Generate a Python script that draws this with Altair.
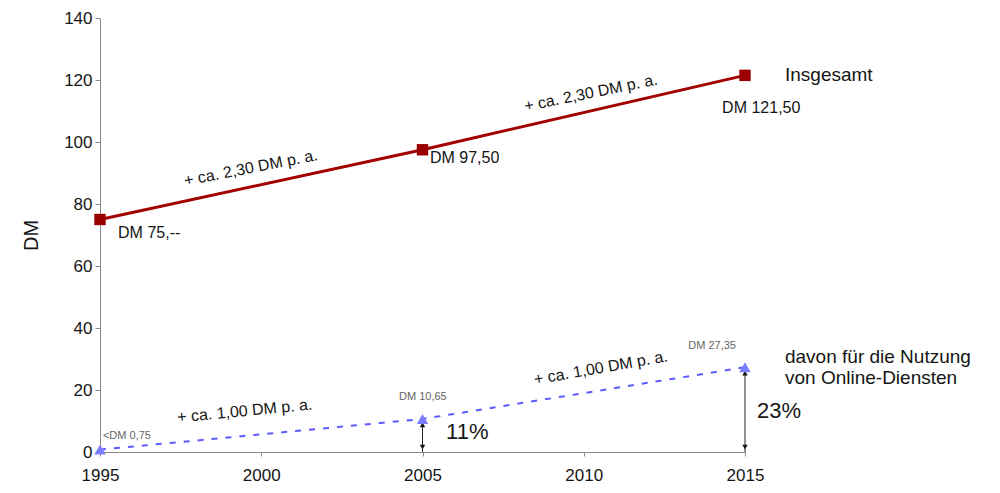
import altair as alt
import pandas as pd

# Average monthly spending per household (DM)
years = [1995, 2005, 2015]
total_dm = [75.0, 97.5, 121.5]
online_dm = [0.75, 10.65, 27.35]

# Value labels next to the markers
total_labels = ["DM 75,--", "DM 97,50", "DM 121,50"]
total_label_x = [1995.56, 2005.23, 2014.29]
total_label_y = [70.5, 94.8, 111.0]

online_labels = ["<DM 0,75", "DM 10,65", "DM 27,35"]
online_label_x = [1995.09, 2005.01, 2013.98]
online_label_y = [5.2, 17.7, 34.2]
online_label_align = ["left", "center", "center"]

# Growth-rate notes written along the line segments
rate_texts = ["+ ca. 2,30 DM p. a.", "+ ca. 2,30 DM p. a.",
              "+ ca. 1,00 DM p. a.", "+ ca. 1,00 DM p. a."]
rate_x = [1999.68, 2010.22, 1999.49, 2010.53]
rate_y = [91.6, 115.8, 13.2, 27.1]
rate_angle = [349, 348.5, 354.5, 350]

# Series names and share annotations
side_texts = ["Insgesamt", "davon für die Nutzung", "von Online-Diensten", "11%", "23%"]
side_x = [2016.24, 2016.24, 2016.24, 2005.73, 2015.37]
side_y = [121.6, 30.6, 23.9, 6.45, 13.2]
side_size = [19, 19, 19, 22, 22]

# Share arrows (from the axis up to the online value)
arrow_years = [2005, 2015]
arrow_tops = [10.65, 27.35]

FONT = "Liberation Sans"
INK = "#151515"

x_scale = alt.Scale(domain=[1995, 2015], nice=False, zero=False)
y_scale = alt.Scale(domain=[0, 140], nice=False)

totals = pd.DataFrame({"year": years, "dm": total_dm})
online = pd.DataFrame({"year": years, "dm": online_dm})

x_enc = alt.X("year:Q", scale=x_scale,
              axis=alt.Axis(values=[1995, 2000, 2005, 2010, 2015], format="d",
                            title=None, grid=False, domainColor="#8a8a8a",
                            tickColor="#8a8a8a", tickSize=4, labelFont=FONT,
                            labelFontSize=17, labelColor=INK, labelPadding=11,
                            labelBaseline="top",
                            labelFlush=False, labelOverlap=False))
y_enc = alt.Y("dm:Q", scale=y_scale,
              axis=alt.Axis(values=list(range(0, 141, 20)), title="DM", grid=False,
                            domainColor="#8a8a8a", tickColor="#8a8a8a", tickSize=5,
                            labelFont=FONT, labelFontSize=17, labelColor=INK,
                            labelPadding=3, labelFlush=False, labelOverlap=False,
                            titleFont=FONT, titleFontSize=20,
                            titleFontWeight="normal", titleColor=INK,
                            titlePadding=22))

total_line = alt.Chart(totals).mark_line(color="#a30000", strokeWidth=3).encode(x=x_enc, y=y_enc)
total_pts = alt.Chart(totals).mark_square(color="#9b0000", size=130, opacity=1).encode(
    x="year:Q", y="dm:Q")

online_line = alt.Chart(online).mark_line(color="#5a5aff", strokeWidth=2,
                                          strokeDash=[6, 8]).encode(x="year:Q", y="dm:Q")
online_pts = alt.Chart(online).mark_point(shape="triangle-up", filled=True, color="#7c7cff",
                                          size=130, opacity=1).encode(x="year:Q", y="dm:Q")

arrows = pd.DataFrame({"year": arrow_years, "top": arrow_tops, "base": [0, 0]})
arrow_rule = alt.Chart(arrows).mark_rule(color="#222", strokeWidth=1).encode(
    x="year:Q", y="base:Q", y2="top:Q")
arrow_up = alt.Chart(arrows).mark_point(shape="triangle-up", filled=True, color="#111",
                                        size=30, opacity=1, yOffset=6).encode(
    x="year:Q", y=alt.Y("top:Q"))
arrow_down = alt.Chart(arrows).mark_point(shape="triangle-down", filled=True, color="#111",
                                          size=30, opacity=1, yOffset=-5).encode(
    x="year:Q", y=alt.Y("base:Q"))

tl = pd.DataFrame({"x": total_label_x, "y": total_label_y, "t": total_labels})
total_text = alt.Chart(tl).mark_text(align="left", baseline="middle", font=FONT,
                                     fontSize=16, color=INK).encode(
    x="x:Q", y="y:Q", text="t:N")

ol = pd.DataFrame({"x": online_label_x, "y": online_label_y, "t": online_labels,
                   "a": online_label_align})
online_text = alt.layer(*[
    alt.Chart(ol[ol["a"] == a]).mark_text(align=a, baseline="middle", font=FONT,
                                          fontSize=11, color="#666").encode(
        x="x:Q", y="y:Q", text="t:N")
    for a in ["left", "center"]
])

rt = pd.DataFrame({"x": rate_x, "y": rate_y, "t": rate_texts, "ang": rate_angle})
rate_text = alt.layer(*[
    alt.Chart(rt.iloc[[i]]).mark_text(align="center", baseline="middle", font=FONT,
                                      fontSize=16, color=INK,
                                      angle=rate_angle[i]).encode(
        x="x:Q", y="y:Q", text="t:N")
    for i in range(len(rate_texts))
])

st = pd.DataFrame({"x": side_x, "y": side_y, "t": side_texts, "s": side_size})
side_text = alt.Chart(st).mark_text(align="left", baseline="middle", font=FONT,
                                    color=INK).encode(
    x="x:Q", y="y:Q", text="t:N",
    size=alt.Size("s:Q", scale=None, legend=None))

chart = alt.layer(
    total_line, arrow_rule, arrow_up, arrow_down, online_line, online_pts, total_pts,
    total_text, online_text, rate_text, side_text
).properties(
    width=645, height=434,
    padding={"left": 100, "top": 18, "right": 255, "bottom": 41},
    autosize=alt.AutoSizeParams(type="none"),
    background="white",
).configure_view(stroke=None).configure_axisX(labelPadding=11, labelBaseline="top")

chart.save("out.html", embed_options={"renderer": "svg", "actions": False})
